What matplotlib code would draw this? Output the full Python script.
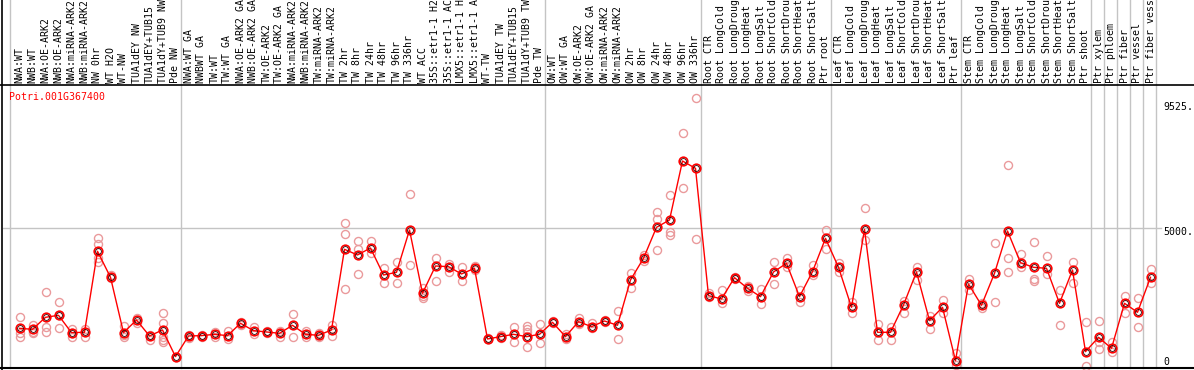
import matplotlib
matplotlib.use("Agg")
import matplotlib.pyplot as plt
from matplotlib.lines import Line2D
import matplotlib.transforms as mtrans

# ---------------- data ----------------
labels_nw = ["NWA:WT", "NWB:WT", "NWA:OE-ARK2", "NWB:OE-ARK2", "NWA:miRNA-ARK2",
             "NWB:miRNA-ARK2", "NW 0hr", "WT H2O", "WT-NW", "TUA1dEY NW",
             "TUA1dEY+TUB15", "TUA1dY+TUB9 NW", "Pde NW"]
labels_tw = ["NWA:WT GA", "NWBWT GA", "TW:WT", "TW:WT GA", "NWA:OE-ARK2 GA",
             "NWB:OE-ARK2 GA", "TW:OE-ARK2", "TW:OE-ARK2 GA", "NWA:miRNA-ARK2",
             "NWB:miRNA-ARK2", "TW:miRNA-ARK2", "TW:miRNA-ARK2", "TW 2hr", "TW 8hr",
             "TW 24hr", "TW 48hr", "TW 96hr", "TW 336hr", "WT ACC",
             "35S::etr1-1 H2O", "35S::etr1-1 ACC", "LMX5::etr1-1 H2O",
             "LMX5::etr1-1 ACC", "WT-TW", "TUA1dEY TW", "TUA1dEY+TUB15",
             "TUA1dY+TUB9 TW", "Pde TW"]
labels_ow = ["OW:WT", "OW:WT GA", "OW:OE-ARK2", "OW:OE-ARK2 GA", "OW:miRNA-ARK2",
             "OW:miRNA-ARK2", "OW 2hr", "OW 8hr", "OW 24hr", "OW 48hr", "OW 96hr",
             "OW 336hr"]
labels_root = ["Root CTR", "Root LongCold", "Root LongDrought", "Root LongHeat",
               "Root LongSalt", "Root ShortCold", "Root ShortDrought",
               "Root ShortHeat", "Root ShortSalt", "Ptr root"]
labels_leaf = ["Leaf CTR", "Leaf LongCold", "Leaf LongDrought", "Leaf LongHeat",
               "Leaf LongSalt", "Leaf ShortCold", "Leaf ShortDrought",
               "Leaf ShortHeat", "Leaf ShortSalt", "Ptr leaf"]
labels_stem = ["Stem CTR", "Stem LongCold", "Stem LongDrought", "Stem LongHeat",
               "Stem LongSalt", "Stem ShortCold", "Stem ShortDrought",
               "Stem ShortHeat", "Stem ShortSalt", "Ptr shoot"]
labels_ptr = ["Ptr xylem", "Ptr phloem", "Ptr fiber", "Ptr vessel", "Ptr fiber vessel"]

means_nw = [1500, 1465, 1884, 1954, 1349, 1361, 4187, 3280, 1349, 1791, 1233, 1442, 512]
means_tw = [1233, 1244, 1291, 1244, 1675, 1419, 1372, 1326, 1605, 1291, 1256, 1442,
            4257, 4059, 4303, 3361, 3454, 4931, 2721, 3675, 3652, 3396, 3594,
            1128, 1210, 1291, 1210, 1291]
means_ow = [1710, 1210, 1733, 1558, 1756, 1605, 3187, 3943, 5024, 5280, 7339, 7083]
means_root = [2640, 2524, 3268, 2896, 2605, 3466, 3768, 2605, 3477, 4640]
means_leaf = [3629, 2233, 4954, 1361, 1361, 2314, 3466, 1768, 2233, 372]
means_stem = [3047, 2303, 3419, 4896, 3791, 3629, 3594, 2373, 3536, 686]
means_ptr = [1186, 802, 2373, 2059, 3280]

reps_nw = [[1884, 1326, 1210], [1617, 1384, 1326], [2756, 1535, 1384],
           [2407, 1954, 1500], [1465, 1349, 1210], [1465, 1210],
           [4640, 4431, 3943, 3826], [3349, 3245], [1582, 1268, 1210],
           [1849, 1675], [1268, 1093], [2024, 1675, 1210, 1093, 1035], [512]]
reps_tw = [[1268, 1151], [1268, 1210], [1384, 1210], [1419, 1116], [1710, 1617],
           [1535, 1303], [1419, 1326], [1419, 1210], [2000, 1210], [1419, 1186],
           [1349, 1186], [1605, 1233], [5164, 4780, 2861], [4547, 4257, 3384],
           [4547, 4117], [3594, 3070], [3803, 3070], [6176, 3710],
           [2896, 2628, 2547], [3943, 3152], [3745, 3477], [3629, 3152],
           [3675, 3536], [1151, 1116], [1268, 1151], [1535, 1035],
           [1582, 1465, 1384, 837], [1651, 977]]
reps_ow = [[1768, 1675], [1291, 1116], [1872, 1640], [1675, 1500], [1791, 1721],
           [2105, 1116], [3442, 2896], [4059, 3850], [5559, 5303, 4233],
           [6141, 4873, 4757], [8304, 6385], [9525, 4605]]
reps_root = [[2721, 2582], [2838, 2373], [3300, 3230], [2977, 2803], [2861, 2338],
             [3826, 3035], [3943, 3652], [2838, 2431], [3710, 3361], [4931, 4257]]
reps_leaf = [[3768, 3454], [2431, 2047], [5687, 4582], [1640, 1093], [1558, 1093],
             [2466, 2024], [3652, 3187], [1931, 1477], [2489, 2024], [651, 221]]
reps_stem = [[3222, 2838], [2373, 2198], [4466, 2419], [7187, 3943, 3477],
             [4094, 3652], [4501, 3210, 3163], [4024, 3396], [2838, 1605],
             [3826, 3094], [1710, 186]]
reps_ptr = [[1756, 1035, 768], [1035, 686], [2628, 2024], [2547, 1558], [3559, 3070]]

gene_name = "Potri.001G367400"
ytick_values = [9525, 5000, 0]
ytick_texts = ["9525.", "5000.", "0"]

groups_labels = [labels_nw, labels_tw, labels_ow, labels_root, labels_leaf,
                 labels_stem] + [[l] for l in labels_ptr]
categories = sum([labels_nw, labels_tw, labels_ow, labels_root, labels_leaf,
                  labels_stem, labels_ptr], [])
means = means_nw + means_tw + means_ow + means_root + means_leaf + means_stem + means_ptr
reps = reps_nw + reps_tw + reps_ow + reps_root + reps_leaf + reps_stem + reps_ptr

# ---------------- layout ----------------
W, H = 1194, 370
fig = plt.figure(figsize=(W / 100, H / 100), dpi=100)
FONT = "DejaVu Sans Mono"
FS = 7.1

ax_l, ax_r, ax_t, ax_b = 3, 1156, 85, 368  # pixels
ax = fig.add_axes([ax_l / W, 1 - ax_b / H, (ax_r - ax_l) / W, (ax_b - ax_t) / H])
ax.set_axis_off()

step = 13.0
x0 = 19.5
ax.set_xlim((ax_l - x0) / step, (ax_r - x0) / step)
ax.set_ylim(115, 9991)

xs = list(range(len(categories)))
grid_c = "#c4c4c4"

blend_x = mtrans.blended_transform_factory(ax.transData, fig.transFigure)

# vertical group separators (run through header and plot)
bounds = [-0.73]
idx = -1
for g in groups_labels:
    idx += len(g)
    bounds.append(idx + 0.415)
for b in bounds:
    fig.add_artist(Line2D([b, b], [1 - ax_b / H, 1], transform=blend_x,
                          color=grid_c, lw=1, zorder=0))

# horizontal grid line at 5000
ax.axhline(5000, xmin=0, xmax=(1161 - ax_l) / (ax_r - ax_l), color=grid_c,
           lw=1, clip_on=False, zorder=0)

# frame lines
fig.add_artist(Line2D([2 / W, 2 / W], [0, 1], transform=fig.transFigure,
                      color="black", lw=1.2))
fig.add_artist(Line2D([0, 1], [1 - ax_t / H, 1 - ax_t / H], transform=fig.transFigure,
                      color="black", lw=1.2))
fig.add_artist(Line2D([0, 1], [1 - ax_b / H, 1 - ax_b / H], transform=fig.transFigure,
                      color="black", lw=1.5))

# replicate circles
rx, ry = [], []
for i, r in enumerate(reps):
    for v in r:
        rx.append(i)
        ry.append(v)
ax.plot(rx, ry, linestyle="none", marker="o", ms=5.8, mfc="none",
        mec="#ea9a9c", mew=1.0, clip_on=False, zorder=2)

# mean line
ax.plot(xs, means, color="#ff0000", lw=1.0, marker="o", ms=6.2, mfc="none",
        mec="#ff0000", mew=1.2, clip_on=False, zorder=3)
ax.plot(xs, means, linestyle="none", marker="o", ms=4.2, mfc="none",
        mec="#300000", mew=0.6, clip_on=False, zorder=4)

# category labels
for i, lab in enumerate(categories):
    ax.text(i, 1 - 83 / H, lab, transform=blend_x, rotation=90, ha="center",
            va="bottom", fontsize=FS, family=FONT, color="black", clip_on=False)

# gene name
fig.text(9 / W, 1 - 97 / H, gene_name, color="#ff0000", fontsize=FS, family=FONT,
         ha="left", va="center")

# y tick labels on the right
ytick_pix = [106.7, 231.7, 361.7]
for t, py in zip(ytick_texts, ytick_pix):
    fig.text(1163 / W, 1 - py / H, t, fontsize=FS, family=FONT, ha="left",
             va="center", color="black")

fig.savefig("out.png", dpi=100)
